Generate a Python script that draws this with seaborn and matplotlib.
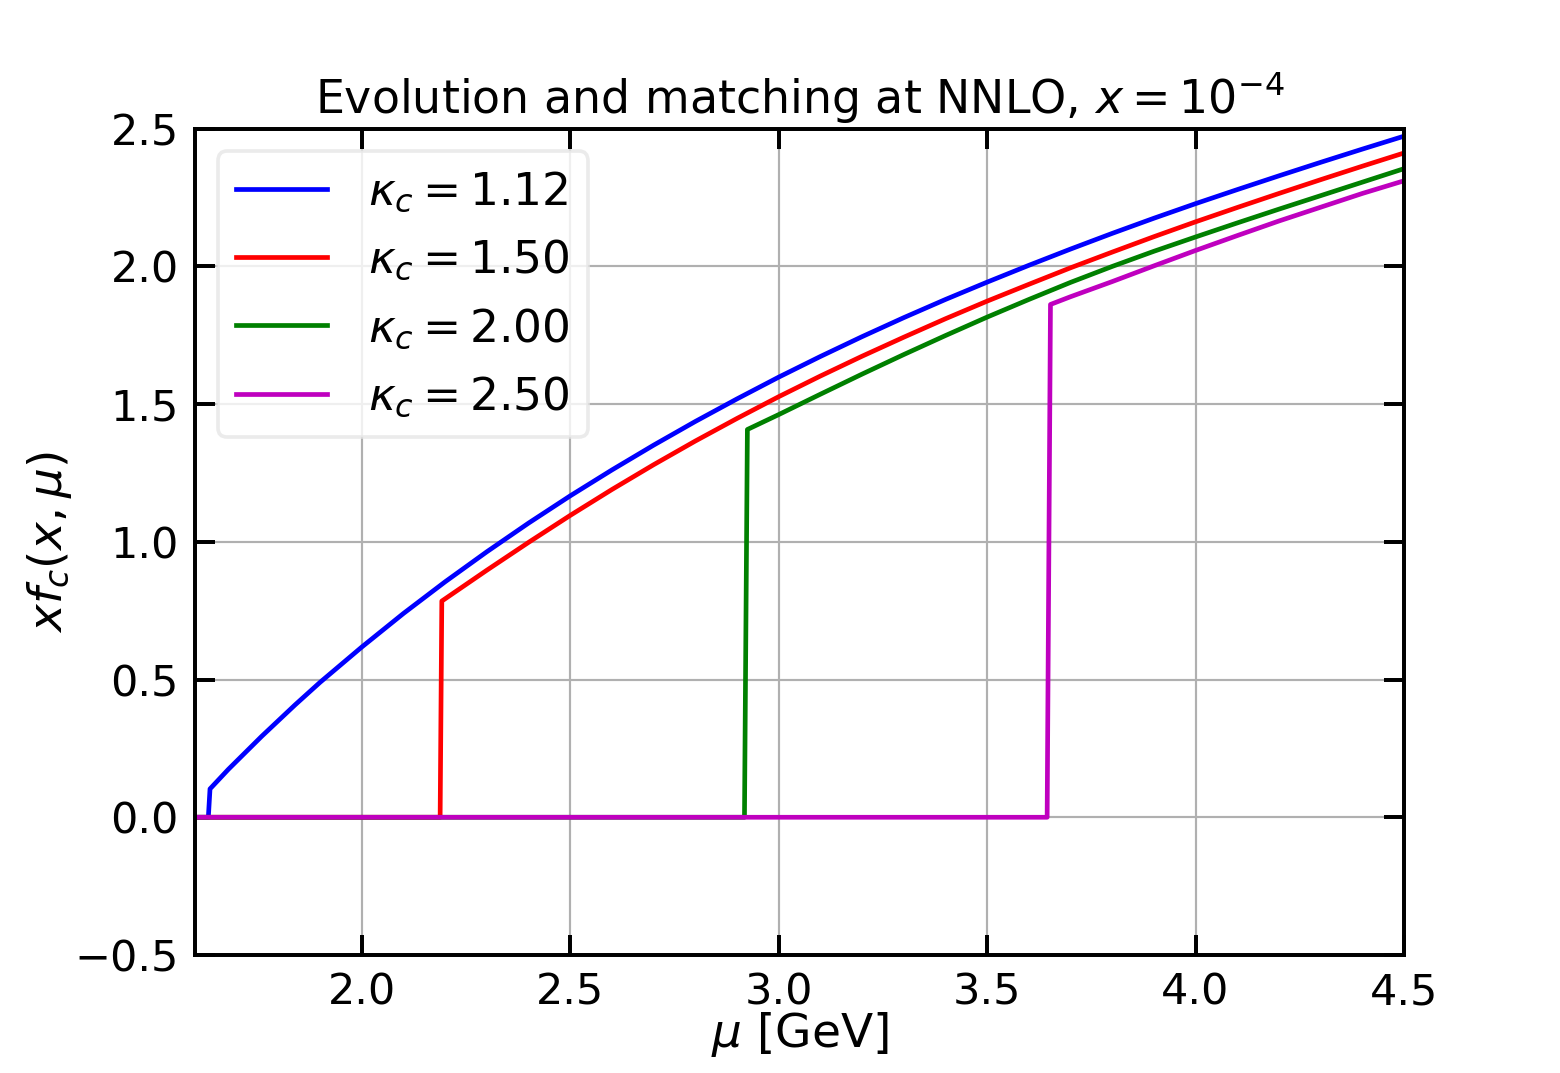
import pandas as pd
import seaborn as sns
import matplotlib.pyplot as plt

# valores: x f_c(x, mu) em x = 1e-4, para cada kappa_c
mu_112 = [1.6, 1.632, 1.636, 1.68, 1.76, 1.84, 1.9, 2.0, 2.1, 2.2, 2.3, 2.4, 2.5,
          2.6, 2.7, 2.8, 2.9, 3.0, 3.1, 3.2, 3.3, 3.4, 3.5, 3.6, 3.7, 3.8, 3.9,
          4.0, 4.1, 4.2, 4.3, 4.4, 4.5]
xf_112 = [0.0, 0.0, 0.103, 0.174, 0.294, 0.408, 0.49, 0.618, 0.74, 0.855, 0.964, 1.068, 1.167,
          1.261, 1.351, 1.437, 1.519, 1.598, 1.673, 1.745, 1.814, 1.88, 1.943, 2.004, 2.063, 2.12, 2.175,
          2.228, 2.279, 2.329, 2.378, 2.426, 2.473]

mu_150 = [1.6, 2.188, 2.192, 2.3, 2.4, 2.5, 2.6, 2.7, 2.8, 2.9, 3.0, 3.1, 3.2,
          3.3, 3.4, 3.5, 3.6, 3.7, 3.8, 3.9, 4.0, 4.1, 4.2, 4.3, 4.4, 4.5]
xf_150 = [0.0, 0.0, 0.785, 0.897, 0.998, 1.096, 1.19, 1.28, 1.366, 1.448, 1.527, 1.602, 1.674,
          1.743, 1.81, 1.874, 1.935, 1.995, 2.052, 2.108, 2.162, 2.214, 2.265, 2.315, 2.364, 2.412]

mu_200 = [1.6, 2.918, 2.925, 3.0, 3.1, 3.2, 3.3, 3.4, 3.5, 3.6, 3.7, 3.8, 3.9,
          4.0, 4.1, 4.2, 4.3, 4.4, 4.5]
xf_200 = [0.0, 0.0, 1.408, 1.462, 1.536, 1.609, 1.68, 1.749, 1.816, 1.88, 1.942, 2.0, 2.055,
          2.107, 2.158, 2.208, 2.257, 2.306, 2.355]

mu_250 = [1.6, 3.644, 3.652, 3.7, 3.8, 3.9, 4.0, 4.1, 4.2, 4.3, 4.4, 4.5]
xf_250 = [0.0, 0.0, 1.862, 1.89, 1.945, 2.002, 2.058, 2.112, 2.165, 2.215, 2.265, 2.311]

kappas = ['1.12', '1.50', '2.00', '2.50']
cores = ['#0000ff', '#ff0000', '#008000', '#bf00bf']

series = [(mu_112, xf_112), (mu_150, xf_150), (mu_200, xf_200), (mu_250, xf_250)]
labels = [r'$\kappa_c = ' + k + '$' for k in kappas]
frames = []
for lab, (mu, xf) in zip(labels, series):
    frames.append(pd.DataFrame({'mu': mu, 'xf': xf, 'kappa': lab}))
df = pd.concat(frames, ignore_index=True)

fig, ax = plt.subplots(figsize=(6, 4.127), dpi=260)
sns.lineplot(data=df, x='mu', y='xf', hue='kappa', hue_order=labels,
             palette=dict(zip(labels, cores)), estimator=None, sort=False,
             linewidth=1.3, ax=ax)

ax.set_xlim(1.6, 4.5)
ax.set_ylim(-0.5, 2.5)
ax.set_xticks([2.0, 2.5, 3.0, 3.5, 4.0, 4.5])
ax.set_yticks([-0.5, 0.0, 0.5, 1.0, 1.5, 2.0, 2.5])
ax.grid(True, color='#b0b0b0', linewidth=0.6)
ax.set_axisbelow(True)
ax.tick_params(direction='in', top=True, right=True, length=5.5, width=1.1,
               labelsize=11.9, pad=4.5)
for s in ax.spines.values():
    s.set_linewidth(1.1)

ax.set_xlabel(r'$\mu$ [GeV]', fontsize=13, labelpad=-1)
ax.set_ylabel(r'$xf_c(x,\mu)$', fontsize=13, labelpad=0)
ax.set_title(r'Evolution and matching at NNLO, $x = 10^{-4}$', fontsize=12.7, pad=4)
leg = ax.legend(loc='upper left', fontsize=12.6, handlelength=2.0, title=None,
                labelspacing=0.52, handletextpad=0.9)
leg.get_frame().set_edgecolor('0.9')

fig.savefig('out.png', dpi=260)
